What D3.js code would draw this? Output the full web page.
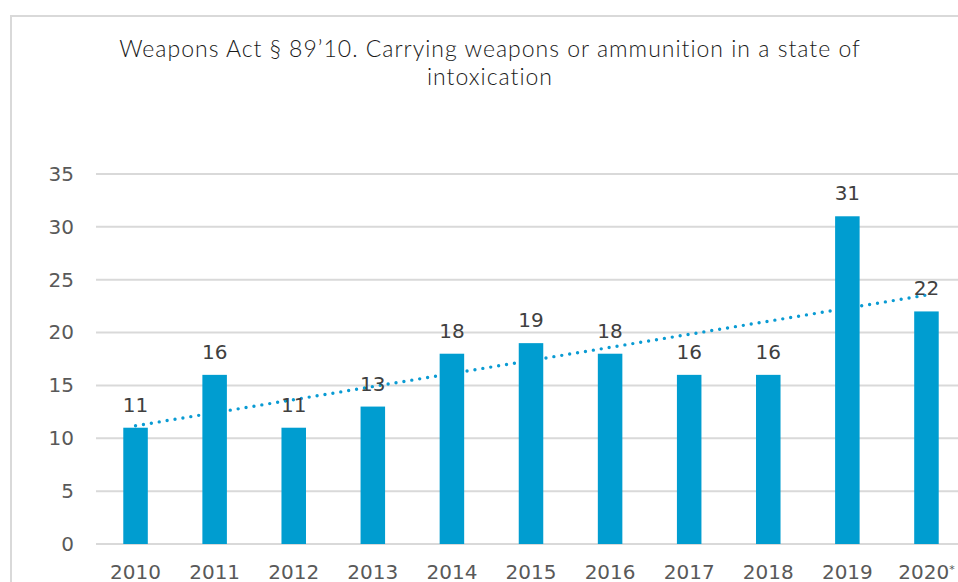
<!DOCTYPE html>
<html>
<head>
<meta charset="utf-8">
<script src="https://cdn.jsdelivr.net/npm/d3@7"></script>
<style>
  body { margin: 0; background: #fff; }
  svg { display: block; }
  .tick text { fill: #595959; }
</style>
</head>
<body>
<div id="chart"></div>
<script>
var years = ["2010", "2011", "2012", "2013", "2014", "2015", "2016", "2017", "2018", "2019", "2020"];
var cases = [11, 16, 11, 13, 18, 19, 18, 16, 16, 31, 22];
var yTicks = [0, 5, 10, 15, 20, 25, 30, 35];
var titleLines = ["Weapons Act § 89’10. Carrying weapons or ammunition in a state of", "intoxication"];

var width = 958, height = 582;
var margin = {top: 174, right: -8, bottom: 38, left: 96};

var svg = d3.select('#chart').append('svg')
    .attr('width', width)
    .attr('height', height);

// chart frame
svg.append('rect')
    .attr('x', 11).attr('y', 16)
    .attr('width', 980).attr('height', 600)
    .attr('fill', 'none')
    .attr('stroke', '#d9d9d9')
    .attr('stroke-width', 2);

var x = d3.scaleBand()
    .domain(years)
    .range([margin.left, width - margin.right])
    .paddingInner(0.69)
    .paddingOuter(0.345);

var y = d3.scaleLinear()
    .domain([0, 35])
    .range([height - margin.bottom, margin.top]);

// gridlines
svg.append('g')
  .selectAll('line')
  .data(yTicks)
  .enter().append('line')
    .attr('x1', margin.left)
    .attr('x2', width)
    .attr('y1', function(d) { return y(d); })
    .attr('y2', function(d) { return y(d); })
    .attr('stroke', '#d9d9d9')
    .attr('stroke-width', 2);

// y axis labels
var yAxis = svg.append('g')
    .attr('transform', 'translate(' + margin.left + ',0)')
    .call(d3.axisLeft(y).tickValues(yTicks).tickSize(0).tickPadding(22));
yAxis.select('.domain').remove();
yAxis.selectAll('text')
    .style('font-family', 'DejaVu Sans')
    .style('font-size', '20px');

// x axis labels
var xAxis = svg.append('g')
    .attr('transform', 'translate(0,' + y(0) + ')')
    .call(d3.axisBottom(x).tickSize(0).tickPadding(21));
xAxis.select('.domain').remove();
xAxis.selectAll('text')
    .style('font-family', 'DejaVu Sans')
    .style('font-size', '20px');
xAxis.selectAll('.tick').filter(function(d) { return d == '2020'; })
  .select('text')
    .append('tspan')
    .attr('dy', '-0.6em')
    .style('font-size', '11px')
    .text('*');

// linear trend, drawn under the bars
var n = cases.length;
var mx = d3.mean(d3.range(n)), my = d3.mean(cases);
var sxy = d3.sum(cases, function(d, i) { return (i - mx) * (d - my); });
var sxx = d3.sum(d3.range(n), function(i) { return (i - mx) * (i - mx); });
var slope = sxy / sxx, icpt = my - slope * mx;

svg.append('line')
    .attr('x1', x(years[0]) + x.bandwidth() / 2)
    .attr('x2', x(years[n - 1]) + x.bandwidth() / 2)
    .attr('y1', y(icpt))
    .attr('y2', y(icpt + slope * (n - 1)))
    .attr('stroke', '#0a9bd3')
    .attr('stroke-width', 3.4)
    .attr('stroke-linecap', 'round')
    .attr('stroke-dasharray', '0,8');

// bars
svg.append('g')
  .selectAll('rect')
  .data(cases)
  .enter().append('rect')
    .attr('x', function(d, i) { return x(years[i]); })
    .attr('y', function(d) { return y(d); })
    .attr('width', x.bandwidth())
    .attr('height', function(d) { return y(0) - y(d); })
    .attr('fill', '#009dd0');

// value labels
svg.append('g')
  .selectAll('text')
  .data(cases)
  .enter().append('text')
    .attr('x', function(d, i) { return x(years[i]) + x.bandwidth() / 2; })
    .attr('y', function(d) { return y(d) - 16; })
    .attr('text-anchor', 'middle')
    .style('font-family', 'DejaVu Sans')
    .style('font-size', '20px')
    .attr('fill', '#404040')
    .text(function(d) { return d; });

// title
svg.append('g')
  .selectAll('text')
  .data(titleLines)
  .enter().append('text')
    .attr('x', 490)
    .attr('y', function(d, i) { return 57 + i * 28; })
    .attr('text-anchor', 'middle')
    .style('font-family', 'Lato')
    .style('font-weight', 300)
    .style('font-size', '23px')
    .style('letter-spacing', '1px')
    .attr('fill', '#1a1a1a')
    .text(function(d) { return d; });
</script>
</body>
</html>
